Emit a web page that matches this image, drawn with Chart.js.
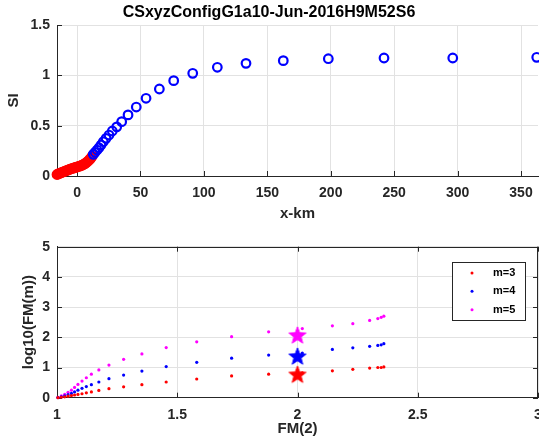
<!DOCTYPE html>
<html>
<head>
<meta charset="utf-8">
<script src="https://cdn.jsdelivr.net/npm/chart.js@4.4.1/dist/chart.umd.min.js"></script>
<style>
  html, body { margin: 0; padding: 0; background: #fff; overflow: hidden; }
  #fig { position: relative; width: 539px; height: 446px; overflow: hidden; background: #fff; }
  #fig canvas { position: absolute; left: 0; }
  #top { top: 0; }
  #bottom { top: 230px; }
</style>
</head>
<body>
<div id="fig">
  <canvas id="top" width="560" height="230"></canvas>
  <canvas id="bottom" width="560" height="216"></canvas>
</div>
<script>
// ---- SI profile along the line (km) ----
const nearX  = [-15.8, -15, -14, -13, -12, -11, -10, -9, -8, -7, -6, -5, -4, -3, -2, -1,
                0, 1, 2, 3, 4, 5, 6, 7, 8, 9, 10, 11, 12];
const nearSI = [0.015, 0.02, 0.025, 0.03, 0.035, 0.04, 0.045, 0.05, 0.055, 0.06, 0.065, 0.07,
                0.074, 0.078, 0.082, 0.086, 0.09, 0.094, 0.098, 0.103, 0.108, 0.114, 0.121,
                0.13, 0.14, 0.152, 0.165, 0.18, 0.197];
const farX   = [12.8, 14.2, 15.8, 17.3, 18.9, 20.7, 22.9, 25.2, 27.8, 31.3, 35.2, 40.2, 46.7,
                54.4, 64.9, 76.2, 91.2, 110.6, 133.2, 162.6, 198.1, 242, 296.2, 362.4];
const farSI  = [0.215, 0.235, 0.258, 0.281, 0.308, 0.34, 0.374, 0.407, 0.447, 0.488, 0.54,
                0.607, 0.685, 0.772, 0.864, 0.947, 1.02, 1.08, 1.119, 1.146, 1.165, 1.172,
                1.172, 1.179];
const kmTicks = [0, 50, 100, 150, 200, 250, 300, 350];
const siTicks = [0, 0.5, 1, 1.5];

// ---- moment scaling: log10(FM(m)) against FM(2) ----
const fm2    = [1.004, 1.018, 1.032, 1.046, 1.06, 1.073, 1.087, 1.104, 1.122, 1.143, 1.174,
                1.216, 1.277, 1.353, 1.454, 1.581, 1.726, 1.88, 2.02, 2.145, 2.23, 2.30,
                2.334, 2.348, 2.359];
const logFM3 = [0, 0.015, 0.03, 0.05, 0.07, 0.09, 0.11, 0.13, 0.16, 0.19, 0.24, 0.30, 0.36,
                0.43, 0.52, 0.62, 0.72, 0.78, 0.82, 0.89, 0.94, 0.98, 1.0, 1.0, 1.02];
const logFM4 = [0.005, 0.03, 0.06, 0.1, 0.14, 0.19, 0.25, 0.31, 0.37, 0.43, 0.52, 0.63, 0.75,
                0.88, 1.03, 1.17, 1.31, 1.41, 1.48, 1.60, 1.65, 1.70, 1.73, 1.75, 1.79];
const logFM5 = [0.01, 0.06, 0.11, 0.18, 0.25, 0.34, 0.44, 0.55, 0.66, 0.78, 0.92, 1.08, 1.27,
                1.45, 1.66, 1.85, 2.02, 2.18, 2.29, 2.38, 2.45, 2.56, 2.62, 2.66, 2.70];
const seriesNames = ['m=3', 'm=4', 'm=5'];
const seriesColors = ['#ff0000', '#0000ff', '#ff00ff'];
// exponential reference: FM(2)=2, FM(m)=m!
const refFM2 = 2;
const refLogFM = [0.778, 1.380, 2.079];
const fmTicks = [1, 1.5, 2, 2.5, 3];
const logTicks = [0, 1, 2, 3, 4, 5];

// ---- shared styling ----
const ink = '#262626';
const gridInk = '#e2e2e2';
const family = '"Liberation Sans", Arial, sans-serif';
const tickFont = { family, size: 14, weight: 'bold' };
const labelFont = { family, size: 15, weight: 'bold', lineHeight: 1.2 };

const pts = (xs, ys) => xs.map((x, i) => ({ x, y: ys[i] }));
const fixedTicks = list => scale => { scale.ticks = list.map(v => ({ value: v })); };

// filled five-pointed star marker
function starMarker(color, r) {
  const c = document.createElement('canvas');
  const s = Math.ceil(r * 2 + 4);
  c.width = s; c.height = s;
  const g = c.getContext('2d');
  const cx = s / 2, cy = s / 2 + r * 0.1, ri = r * 0.42;
  g.beginPath();
  for (let k = 0; k < 10; k++) {
    const rad = k % 2 === 0 ? r : ri;
    const a = -Math.PI / 2 + k * Math.PI / 5;
    const px = cx + rad * Math.cos(a), py = cy + rad * Math.sin(a);
    if (k === 0) g.moveTo(px, py); else g.lineTo(px, py);
  }
  g.closePath();
  g.fillStyle = color; g.fill();
  g.lineWidth = 1; g.strokeStyle = color; g.stroke();
  return c;
}

// inward tick marks (and the full box when asked)
function axesFrame(box) {
  return {
    id: 'axesFrame',
    beforeDatasetsDraw(chart) {
      const { ctx, chartArea: a, scales: { x, y } } = chart;
      const L = 5;
      ctx.save();
      ctx.strokeStyle = ink;
      ctx.lineWidth = 1;
      ctx.beginPath();
      x.ticks.forEach(t => {
        const px = Math.round(x.getPixelForValue(t.value)) + 0.5;
        ctx.moveTo(px, a.bottom); ctx.lineTo(px, a.bottom - L);
        if (box) { ctx.moveTo(px, a.top); ctx.lineTo(px, a.top + L); }
      });
      y.ticks.forEach(t => {
        const py = Math.round(y.getPixelForValue(t.value)) + 0.5;
        ctx.moveTo(a.left, py); ctx.lineTo(a.left + L, py);
        if (box) { ctx.moveTo(a.right, py); ctx.lineTo(a.right - L, py); }
      });
      if (box) {
        ctx.moveTo(a.left, Math.round(a.top) + 0.5); ctx.lineTo(a.right, Math.round(a.top) + 0.5);
        ctx.moveTo(Math.round(a.right) - 0.5, a.top); ctx.lineTo(Math.round(a.right) - 0.5, a.bottom);
      }
      ctx.stroke();
      ctx.restore();
    }
  };
}

// boxed legend in the upper right of the plot area
const momentLegend = {
  id: 'momentLegend',
  afterDraw(chart) {
    const { ctx, chartArea: a } = chart;
    const w = 73, h = 58;
    const x0 = Math.round(a.right - 86.3), y0 = Math.round(a.top + 15.6);
    ctx.save();
    ctx.fillStyle = '#fff';
    ctx.fillRect(x0, y0, w, h);
    ctx.strokeStyle = ink; ctx.lineWidth = 1;
    ctx.strokeRect(x0 + 0.5, y0 + 0.5, w, h);
    ctx.font = 'bold 11px ' + family;
    ctx.textBaseline = 'middle';
    ctx.textAlign = 'left';
    chart.data.datasets.filter(d => d.inLegend).forEach((d, i) => {
      const cy = y0 + 11 + i * 18.35;
      ctx.fillStyle = d.backgroundColor;
      ctx.beginPath(); ctx.arc(x0 + 20, cy, 1.5, 0, Math.PI * 2); ctx.fill();
      ctx.fillStyle = '#000';
      ctx.fillText(d.label, x0 + 41, cy);
    });
    ctx.restore();
  }
};

const common = {
  responsive: false,
  animation: false,
  events: [],
};

// ---- upper panel: SI versus distance ----
new Chart(document.getElementById('top'), {
  type: 'scatter',
  data: {
    datasets: [
      { label: 'far', data: pts(farX, farSI), borderColor: '#0000ff', backgroundColor: 'rgba(0,0,0,0)',
        pointRadius: 4.3, pointBorderWidth: 2.2, clip: false },
      { label: 'near', data: pts(nearX, nearSI), borderColor: '#ff0000', backgroundColor: 'rgba(0,0,0,0)',
        pointRadius: 4.3, pointBorderWidth: 2.2, clip: false }
    ]
  },
  options: {
    ...common,
    layout: { padding: { top: 0, left: 0, right: 22, bottom: 0 } },
    plugins: {
      legend: { display: false },
      tooltip: { enabled: false },
      title: { display: true, text: 'CSxyzConfigG1a10-Jun-2016H9M52S6', color: '#000',
               font: { family, size: 16, weight: 'bold', lineHeight: 1.2 },
               padding: { top: 3.4, bottom: 2.4 } }
    },
    scales: {
      x: {
        type: 'linear', min: -15.8, max: 363.4,
        afterBuildTicks: fixedTicks(kmTicks),
        afterFit: s => { s.height = 54; },
        grid: { color: gridInk, drawTicks: false },
        border: { display: true, color: ink },
        ticks: { padding: 9, color: ink, font: tickFont, maxRotation: 0, autoSkip: false, callback: v => String(v) },
        title: { display: true, text: 'x-km', color: ink, font: labelFont, padding: { top: 0, bottom: 7.5 } }
      },
      y: {
        type: 'linear', min: 0, max: 1.5,
        afterBuildTicks: fixedTicks(siTicks),
        afterFit: s => { s.width = 57; },
        grid: { color: gridInk, drawTicks: false },
        border: { display: true, color: ink },
        ticks: { padding: 7, color: ink, font: tickFont, autoSkip: false, callback: v => String(v) },
        title: { display: true, text: 'SI', color: ink, font: labelFont, padding: { top: 4.5, bottom: 0 } }
      }
    }
  },
  plugins: [axesFrame(false)]
});

// ---- lower panel: moment scaling ----
const momentSets = seriesNames.map((name, i) => ({
  label: name, inLegend: true,
  data: pts(fm2, [logFM3, logFM4, logFM5][i]),
  backgroundColor: seriesColors[i], borderWidth: 0,
  pointRadius: 1.6, clip: false, order: 2
}));
const refSets = refLogFM.map((v, i) => ({
  label: seriesNames[i] + ' ref',
  data: [{ x: refFM2, y: v }],
  pointStyle: starMarker(seriesColors[i], 9),
  backgroundColor: seriesColors[i], borderColor: seriesColors[i],
  clip: false, order: 1
}));

new Chart(document.getElementById('bottom'), {
  type: 'scatter',
  data: { datasets: [...momentSets, ...refSets] },
  options: {
    ...common,
    layout: { padding: { top: 16.7, left: 0, right: 22, bottom: 0 } },
    plugins: { legend: { display: false }, tooltip: { enabled: false } },
    scales: {
      x: {
        type: 'linear', min: 1, max: 3,
        afterBuildTicks: fixedTicks(fmTicks),
        afterFit: s => { s.height = 48.3; },
        grid: { color: gridInk, drawTicks: false },
        border: { display: true, color: ink },
        ticks: { padding: 9.5, color: ink, font: tickFont, maxRotation: 0, autoSkip: false, callback: v => String(v) },
        title: { display: true, text: 'FM(2)', color: ink, font: labelFont, padding: { top: 0, bottom: 8.5 } }
      },
      y: {
        type: 'linear', min: 0, max: 5,
        afterBuildTicks: fixedTicks(logTicks),
        afterFit: s => { s.width = 57; },
        grid: { color: gridInk, drawTicks: false },
        border: { display: true, color: ink },
        ticks: { padding: 7, color: ink, font: tickFont, autoSkip: false, callback: v => String(v) },
        title: { display: true, text: 'log10(FM(m))', color: ink, font: labelFont, padding: { top: 20, bottom: 0 } }
      }
    }
  },
  plugins: [axesFrame(true), momentLegend]
});
</script>
</body>
</html>
